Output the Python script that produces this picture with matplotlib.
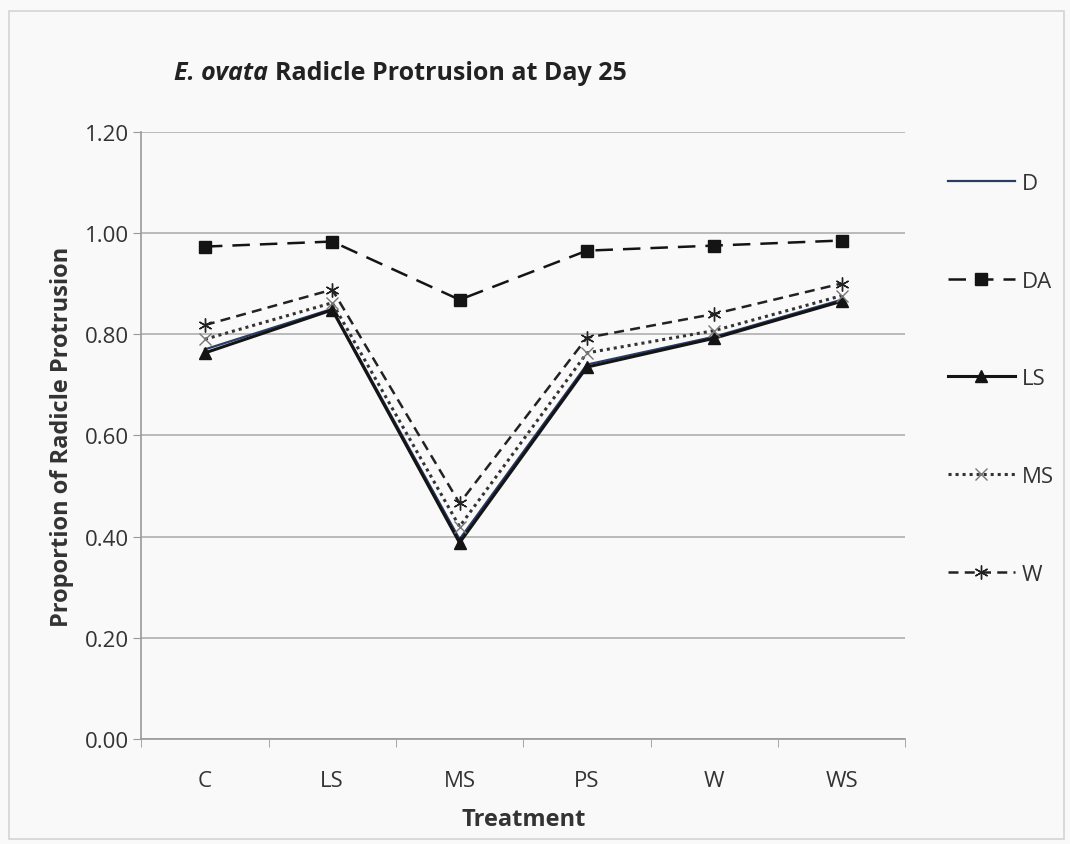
import matplotlib.pyplot as plt
from matplotlib.patches import Rectangle
import numpy as np

plt.rcParams['font.family'] = ['Open Sans', 'DejaVu Sans']

treatments = ["C", "LS", "MS", "PS", "W", "WS"]
d_vals = [0.770, 0.850, 0.395, 0.740, 0.795, 0.868]
da_vals = [0.973, 0.983, 0.868, 0.965, 0.975, 0.985]
ls_vals = [0.763, 0.848, 0.388, 0.735, 0.792, 0.865]
ms_vals = [0.790, 0.862, 0.420, 0.763, 0.807, 0.876]
w_vals = [0.818, 0.888, 0.466, 0.793, 0.840, 0.900]

fig = plt.figure(figsize=(10.7, 8.45), dpi=100)
fig.patch.set_facecolor('#f9f9f9')
fig.patches.append(Rectangle((0.008, 0.006), 0.986, 0.98, transform=fig.transFigure,
                             fill=False, edgecolor='#d4d4d4', linewidth=1.2))

ax = fig.add_axes([0.132, 0.124, 0.714, 0.719])
ax.set_facecolor('#f9f9f9')
x = np.arange(len(treatments))

ax.plot(x, d_vals, color='#2a3d66', lw=1.6, label='D')
ax.plot(x, da_vals, color='#141414', lw=1.8, ls=(0, (7, 4)), marker='s', ms=9, label='DA')
ax.plot(x, ls_vals, color='#141414', lw=2.2, marker='^', ms=9, label='LS')
ax.plot(x, ms_vals, color='#333333', lw=2.2, ls=(0, (1, 1.3)), marker='x', ms=8,
        mew=1.0, mec='#777777', label='MS')
ax.plot(x, w_vals, color='#222222', lw=1.8, ls=(0, (4, 2.5)), marker=(6, 2, 0), ms=10,
        mew=1.0, label='W')

ax.set_xlim(-0.5, len(treatments) - 0.5)
ax.set_ylim(0, 1.2)
ax.set_yticks(np.arange(0, 1.21, 0.2))
ax.set_yticklabels([f"{v:.2f}" for v in np.arange(0, 1.21, 0.2)])
ax.set_xticks(x)
ax.set_xticklabels(treatments)
ax.set_xticks(np.arange(-0.5, len(treatments)), minor=True)
ax.tick_params(axis='x', which='major', length=0, pad=22, labelsize=16, labelcolor='#333333')
ax.tick_params(axis='x', which='minor', length=6, color='#999999', direction='out')
ax.tick_params(axis='y', length=6, color='#999999', pad=3, labelsize=16, labelcolor='#333333')
ax.grid(axis='y', color='#b5b5b5', lw=1.3)
ax.set_axisbelow(True)
for side in ['top', 'right']:
    ax.spines[side].set_visible(False)
for side in ['left', 'bottom']:
    ax.spines[side].set_color('#9a9a9a')
    ax.spines[side].set_linewidth(1.2)

ax.set_xlabel('Treatment', fontsize=17, fontweight='bold', color='#333333', labelpad=12)
ax.set_ylabel('Proportion of Radicle Protrusion', fontsize=17, fontweight='bold',
              color='#333333', labelpad=8)

# title: italic species name followed by upright text
t1 = fig.text(0.163, 0.905, 'E. ovata', fontsize=18, fontweight='bold', fontstyle='italic',
              color='#222222', va='baseline')
fig.canvas.draw()
bb = t1.get_window_extent().transformed(fig.transFigure.inverted())
fig.text(bb.x1 + 0.006, 0.905, 'Radicle Protrusion at Day 25', fontsize=18,
         fontweight='bold', color='#222222', va='baseline')

ax.legend(loc='upper left', bbox_to_anchor=(1.03, 0.965), frameon=False, fontsize=16,
          handlelength=3.0, labelspacing=3.45, handletextpad=0.3, labelcolor='#333333')

fig.savefig('out.png', dpi=100, facecolor=fig.get_facecolor())
